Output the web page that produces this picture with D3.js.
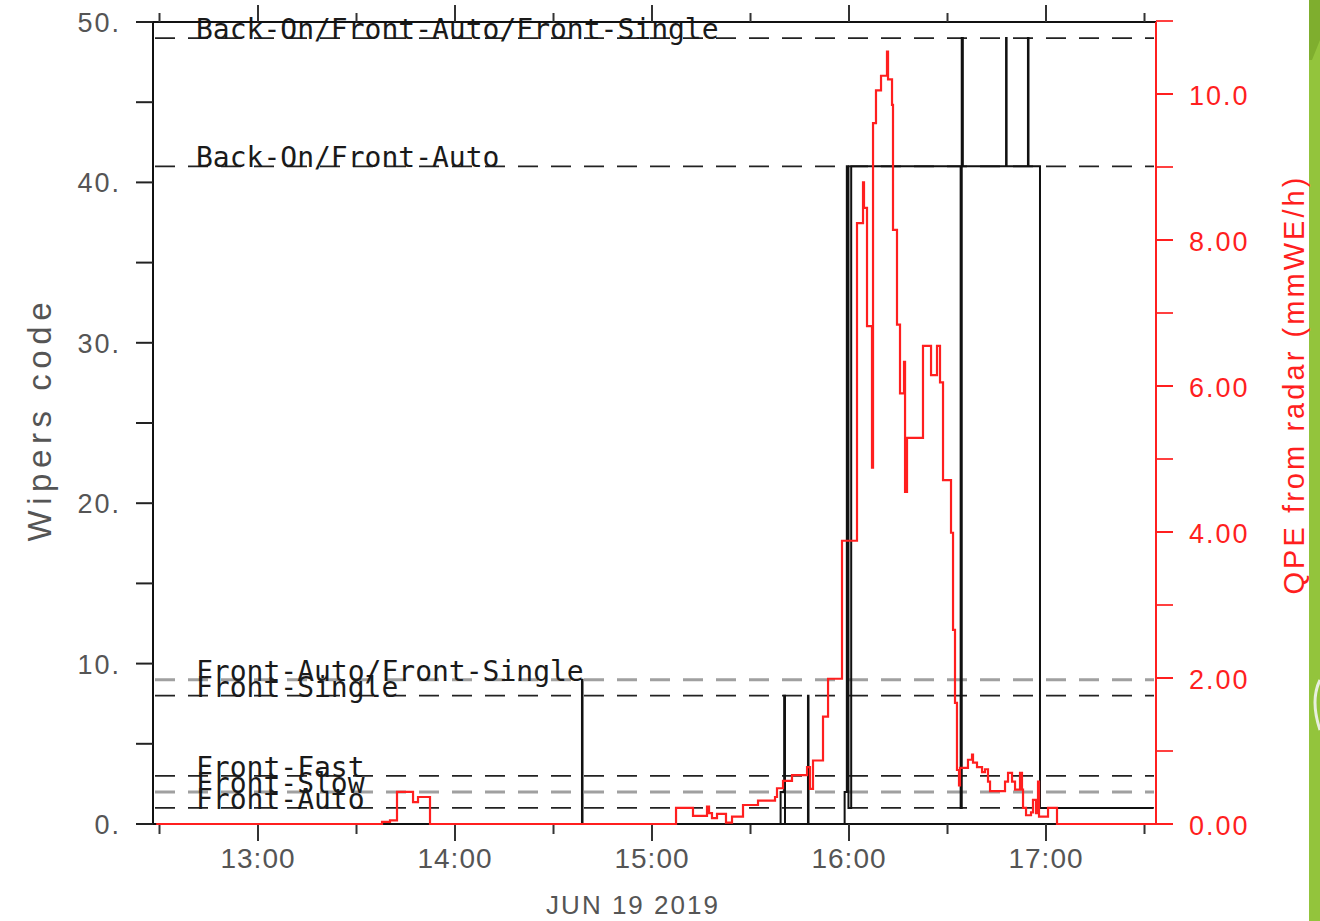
<!DOCTYPE html>
<html><head><meta charset="utf-8">
<script src="https://cdn.jsdelivr.net/npm/d3@7"></script>
<style>html,body{margin:0;padding:0;background:#fff;overflow:hidden}</style>
</head><body><svg id="c" width="1320" height="921"></svg>
<script>
// ---- data ----
const stateLabels = ["Back-On/Front-Auto/Front-Single","Back-On/Front-Auto","Front-Auto/Front-Single","Front-Single","Front-Fast","Front-Slow","Front-Auto"];
const stateCodes  = [49, 41, 9, 8, 3, 2, 1];

const wiperTimes = ["13:40:00","14:38:40","14:38:50","15:39:10","15:40:15","15:40:30","15:47:30","15:47:40",
  "15:58:40","15:59:20","15:59:50","16:00:40","16:34:00","16:34:20","16:34:40","16:47:50","16:48:00",
  "16:54:30","16:54:40","16:58:10","17:32:35"];
const wiperCodes = [0, 9, 0, 2, 8, 0, 8, 0,
  2, 41, 1, 41, 1, 49, 41, 49, 41,
  49, 41, 1, 1];

const qpeTimes = ["12:29:00","13:37:46","13:40:12","13:42:20","13:47:13","13:48:44","13:52:23",
  "15:07:19","15:12:29","15:16:45","15:17:22","15:18:16","15:19:48","15:22:32","15:24:22","15:27:43",
  "15:32:17","15:37:28","15:38:04","15:39:54","15:42:38","15:47:13","15:48:07","15:49:02","15:52:05",
  "15:53:37","15:57:52","16:02:26","16:04:16","16:04:34","16:05:29","16:07:00","16:07:19","16:08:13",
  "16:09:45","16:11:34","16:11:53","16:13:06","16:13:24","16:14:37","16:15:32","16:16:45","16:17:04",
  "16:17:40","16:22:32","16:24:59","16:26:48","16:27:43","16:28:38","16:31:04","16:31:41","16:32:17",
  "16:32:53","16:33:30","16:33:48","16:36:14","16:37:28","16:37:46","16:38:59","16:40:31","16:41:25",
  "16:42:20","16:42:57","16:47:31","16:48:26","16:49:39","16:50:34","16:52:05","16:52:41","16:53:00",
  "16:53:55","16:55:26","16:56:02","16:56:57","16:57:34","16:57:52","17:00:37","17:03:21","17:33:30"];
const qpeValues = [0, 0.03, 0.05, 0.44, 0.30, 0.37, 0,
  0.22, 0.11, 0.24, 0.15, 0.08, 0.14, 0.02, 0.10, 0.26,
  0.32, 0.37, 0.49, 0.59, 0.67, 0.78, 0.48, 0.87, 1.47,
  1.99, 3.88, 8.23, 8.79, 8.44, 6.82, 4.88, 9.60, 10.05,
  10.25, 10.58, 10.20, 9.85, 8.14, 6.84, 5.90, 6.33, 4.55,
  5.29, 6.55, 6.15, 6.55, 6.05, 4.71, 3.99, 2.66, 1.66,
  0.74, 0.53, 0.77, 0.88, 0.95, 0.84, 0.78, 0.71, 0.75,
  0.58, 0.45, 0.58, 0.70, 0.58, 0.47, 0.70, 0.47, 0.22,
  0.12, 0.16, 0.33, 0.15, 0.58, 0.10, 0.22, 0, 0];

const hourLabels = ["13:00","14:00","15:00","16:00","17:00"];
const halfHourTicks = ["12:30","13:30","14:30","15:30","16:30","17:30"];
const leftTicks = [0, 10, 20, 30, 40, 50];
const leftMinor = [5, 15, 25, 35, 45];
const rightTicks = [0, 2, 4, 6, 8, 10];
const rightTickLabels = ["0.00","2.00","4.00","6.00","8.00","10.0"];
const rightMinor = [1, 3, 5, 7, 9, 11];
const timeDomain = ["12:28:01","17:33:30"];
const dateLabel = "JUN 19 2019";

// ---- drawing ----
const svg = d3.select("#c");
const L = 153, R = 1156, T = 22, B = 824;
const pT = d3.timeParse("%H:%M:%S"), pHM = d3.timeParse("%H:%M");
const x = d3.scaleTime().domain(timeDomain.map(pT)).range([L, R]);
const yL = d3.scaleLinear().domain([0, 50]).range([B, T]);
const yR = d3.scaleLinear().domain([0, 11]).range([B, 824 - 11 * 73]);
const red = "#ff1f1f", axisGray = "#555";

svg.append("rect").attr("width",1320).attr("height",921).attr("fill","#fff");
// green stripe at right edge
svg.append("rect").attr("x",1309).attr("y",0).attr("width",11).attr("height",921).attr("fill","#93c43c");
svg.append("path").attr("d","M1309,0 L1320,0 L1320,40 L1312,60 L1309,60 Z").attr("fill","#7fae2e");
svg.append("path").attr("d","M1320,680 Q1310,700 1320,730").attr("fill","none").attr("stroke","#e8efe0").attr("stroke-width",3);

// state dashed lines
const grayCodes = new Set([9, 2]);
stateCodes.forEach((c, i) => {
  const g = grayCodes.has(c);
  svg.append("line").attr("x1", L + 2).attr("x2", R - 2)
    .attr("y1", yL(c)).attr("y2", yL(c))
    .attr("stroke", g ? "#a0a0a0" : "#222").attr("stroke-width", g ? 3 : 1.8)
    .attr("stroke-dasharray", "20,13");
});
stateLabels.forEach((s, i) => {
  svg.append("text").attr("x", 196).attr("y", yL(stateCodes[i]) + 1)
    .attr("font-family", "DejaVu Sans Mono").attr("font-size", 28)
    .attr("fill", "#1a1a1a").text(s);
});

// axes frame
svg.append("line").attr("x1",L).attr("x2",R).attr("y1",T).attr("y2",T).attr("stroke","#111").attr("stroke-width",2);
svg.append("line").attr("x1",L).attr("x2",R).attr("y1",B).attr("y2",B).attr("stroke","#111").attr("stroke-width",2);
svg.append("line").attr("x1",L).attr("x2",L).attr("y1",T).attr("y2",B).attr("stroke","#111").attr("stroke-width",2);
svg.append("line").attr("x1",R).attr("x2",R).attr("y1",T).attr("y2",B).attr("stroke",red).attr("stroke-width",2);

// x ticks
hourLabels.forEach(h => {
  const xx = x(pHM(h));
  svg.append("line").attr("x1",xx).attr("x2",xx).attr("y1",B).attr("y2",B+17).attr("stroke","#333").attr("stroke-width",2);
  svg.append("line").attr("x1",xx).attr("x2",xx).attr("y1",T).attr("y2",T-17).attr("stroke","#333").attr("stroke-width",2);
  svg.append("text").attr("x",xx).attr("y",868).attr("text-anchor","middle")
    .attr("font-family","Liberation Sans").attr("font-size",28).attr("fill",axisGray).attr("letter-spacing",1).text(h);
});
halfHourTicks.forEach(h => {
  const xx = x(pHM(h));
  svg.append("line").attr("x1",xx).attr("x2",xx).attr("y1",B).attr("y2",B+10).attr("stroke","#333").attr("stroke-width",2);
  svg.append("line").attr("x1",xx).attr("x2",xx).attr("y1",T).attr("y2",T-9).attr("stroke","#333").attr("stroke-width",2);
});
svg.append("text").attr("x",633).attr("y",914).attr("text-anchor","middle")
  .attr("font-family","Liberation Sans").attr("font-size",26).attr("fill",axisGray).attr("letter-spacing",2).text(dateLabel);

// left axis ticks
leftTicks.concat(leftMinor).forEach(v => {
  svg.append("line").attr("x1",L-17).attr("x2",L).attr("y1",yL(v)).attr("y2",yL(v)).attr("stroke","#222").attr("stroke-width",2);
});
leftTicks.forEach(v => {
  svg.append("text").attr("x",121).attr("y",yL(v)+10).attr("text-anchor","end")
    .attr("font-family","Liberation Sans").attr("font-size",27).attr("fill",axisGray).attr("letter-spacing",2).text(v + ".");
});
svg.append("text").attr("transform","translate(51,422) rotate(-90)").attr("text-anchor","middle")
  .attr("font-family","Liberation Sans").attr("font-size",33).attr("fill",axisGray)
  .attr("textLength",239).attr("lengthAdjust","spacing").text("Wipers code");

// right axis ticks
rightTicks.concat(rightMinor).forEach(v => {
  svg.append("line").attr("x1",R).attr("x2",R+17).attr("y1",yR(v)).attr("y2",yR(v)).attr("stroke",red).attr("stroke-width",2)
    .attr("opacity", rightTicks.includes(v) ? 1 : 0.85);
});
rightTicks.forEach((v, i) => {
  svg.append("text").attr("x",1189).attr("y",yR(v)+11)
    .attr("font-family","Liberation Sans").attr("font-size",27).attr("fill",red).attr("letter-spacing",2).text(rightTickLabels[i]);
});
svg.append("text").attr("transform","translate(1304,386) rotate(-90)").attr("text-anchor","middle")
  .attr("font-family","Liberation Sans").attr("font-size",29).attr("fill",red)
  .attr("textLength",417).attr("lengthAdjust","spacing").text("QPE from radar (mmWE/h)");

// data lines
const wiper = wiperTimes.map((t, i) => [pT(t), wiperCodes[i]]);
const qpe = qpeTimes.map((t, i) => [pT(t), qpeValues[i]]);
svg.append("path").datum(wiper)
  .attr("d", d3.line().x(d => x(d[0])).y(d => yL(d[1])).curve(d3.curveStepAfter))
  .attr("fill","none").attr("stroke","#111").attr("stroke-width",2);
svg.append("path").datum(qpe)
  .attr("d", d3.line().x(d => x(d[0])).y(d => yR(d[1])).curve(d3.curveStepAfter))
  .attr("fill","none").attr("stroke",red).attr("stroke-width",2.2);
</script></body></html>
